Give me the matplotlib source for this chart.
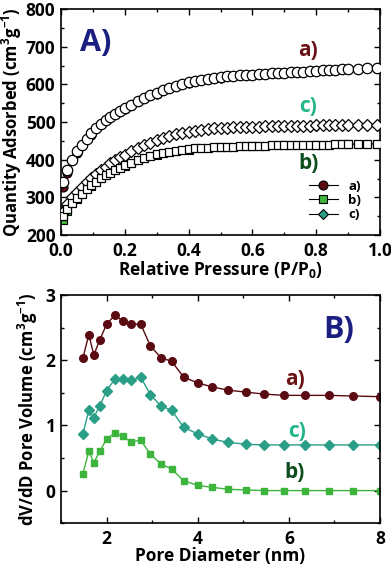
import matplotlib.pyplot as plt
from matplotlib.ticker import MultipleLocator

plt.rcParams['font.family'] = ['Open Sans', 'DejaVu Sans']
plt.rcParams['font.weight'] = 'bold'
plt.rcParams['mathtext.default'] = 'regular'

# colours
C_A = '#5a0b12'
C_B = '#3db53d'
C_C = '#2a9e86'
LAB_A = '#6b1216'
LAB_B = '#0d4d1e'
LAB_C = '#22b58a'
NAVY = '#1b1f80'

# ---- panel A : isotherms (open symbols) ----
p_iso = [0.007, 0.02, 0.035, 0.05, 0.065, 0.08, 0.095, 0.11, 0.125, 0.14, 0.155, 0.17, 0.185,
         0.2, 0.22, 0.24, 0.26, 0.28, 0.3, 0.32, 0.34, 0.36, 0.38, 0.4, 0.42, 0.44, 0.46, 0.48,
         0.5, 0.52, 0.54, 0.56, 0.58, 0.6, 0.62, 0.64, 0.66, 0.68, 0.7, 0.72, 0.74, 0.76, 0.78,
         0.8, 0.82, 0.84, 0.86, 0.88, 0.9, 0.93, 0.96, 0.99]
iso_a = [342, 372, 400, 422, 440, 455, 470, 484, 495, 505, 514, 522, 530,
         537, 546, 555, 563, 571, 578, 585, 591, 597, 602, 606, 609, 612, 615, 618,
         620, 622, 623, 624, 625, 626, 627, 628, 629, 630, 631, 632, 633, 634, 635,
         636, 637, 638, 639, 640, 641, 642, 643, 644]
iso_b = [250, 268, 285, 298, 310, 321, 332, 342, 351, 359, 366, 373, 379,
         385, 392, 399, 405, 410, 414, 418, 421, 424, 426, 428, 430, 431, 432, 433,
         434, 435, 435, 436, 436, 437, 437, 437, 438, 438, 438, 439, 439, 439, 439,
         440, 440, 440, 441, 441, 441, 442, 442, 443]
iso_c = [262, 282, 300, 315, 328, 340, 352, 362, 372, 381, 390, 398, 406,
         413, 422, 430, 438, 445, 451, 457, 462, 467, 471, 474, 477, 479, 481, 483,
         484, 485, 486, 487, 487, 488, 488, 489, 489, 489, 490, 490, 490, 490, 490,
         491, 491, 491, 491, 491, 492, 492, 492, 492]

# filled symbols (mostly hidden under the open ones)
p_ads = [0.007, 0.02, 0.05, 0.095, 0.2, 0.3, 0.4, 0.5, 0.6, 0.7, 0.8, 0.9, 0.99]
ads_a = [328, 366, 418, 466, 534, 575, 603, 618, 625, 630, 635, 640, 643]
ads_b = [240, 264, 295, 330, 383, 412, 427, 433, 436, 438, 440, 441, 442]
ads_c = [255, 278, 312, 350, 411, 449, 473, 483, 487, 489, 490, 491, 491]

# ---- panel B : pore size distribution ----
d_pore = [1.48, 1.61, 1.72, 1.85, 2.0, 2.18, 2.35, 2.53, 2.75, 2.96, 3.19, 3.43, 3.69,
          4.0, 4.32, 4.66, 5.05, 5.45, 5.89, 6.35, 6.87, 7.40, 7.99]
psd_a = [2.03, 2.39, 2.08, 2.31, 2.55, 2.69, 2.60, 2.55, 2.55, 2.22, 2.04, 1.98, 1.74,
         1.65, 1.59, 1.54, 1.51, 1.48, 1.46, 1.46, 1.46, 1.45, 1.44]
psd_b = [0.26, 0.60, 0.43, 0.60, 0.79, 0.88, 0.83, 0.75, 0.77, 0.56, 0.41, 0.33, 0.15,
         0.08, 0.05, 0.02, 0.01, 0.0, 0.0, 0.0, 0.0, 0.0, 0.0]
psd_c = [0.87, 1.23, 1.12, 1.30, 1.53, 1.71, 1.71, 1.69, 1.74, 1.47, 1.30, 1.23, 0.97,
         0.87, 0.79, 0.74, 0.71, 0.70, 0.70, 0.70, 0.70, 0.70, 0.70]

fig = plt.figure(figsize=(3.91, 5.65), dpi=100)
ax1 = fig.add_axes([0.156, 0.584, 0.816, 0.400])
ax2 = fig.add_axes([0.156, 0.074, 0.816, 0.404])

def style(ax):
	ax.tick_params(which='both', direction='in', top=True, right=True, labelsize=12.5)
	ax.tick_params(which='major', length=4, width=1)
	ax.tick_params(which='minor', length=2.5, width=1)
	ax.tick_params(axis='x', pad=5)
	ax.tick_params(axis='y', pad=4)
	for s in ax.spines.values():
		s.set_linewidth(1.2)
	for t in ax.get_xticklabels() + ax.get_yticklabels():
		t.set_fontweight('bold')

# panel A
h_a, = ax1.plot(p_ads, ads_a, '-o', color='k', lw=0.8, mfc=C_A, mec='k', ms=6.5, mew=0.8, zorder=2)
h_b, = ax1.plot(p_ads, ads_b, '-s', color='k', lw=0.8, mfc=C_B, mec='k', ms=5.5, mew=0.8, zorder=2)
h_c, = ax1.plot(p_ads, ads_c, '-D', color='k', lw=0.8, mfc=C_C, mec='k', ms=5, mew=0.8, zorder=2)
ax1.plot(p_iso, iso_a, 'o', mfc='white', mec='k', ms=7.5, mew=0.9, zorder=3)
ax1.plot(p_iso, iso_c, 'D', mfc='white', mec='k', ms=6, mew=0.9, zorder=3)
ax1.plot(p_iso, iso_b, 's', mfc='white', mec='k', ms=6, mew=0.9, zorder=3)
ax1.set_xlim(0, 1)
ax1.set_ylim(200, 800)
ax1.xaxis.set_major_locator(MultipleLocator(0.2))
ax1.xaxis.set_minor_locator(MultipleLocator(0.1))
ax1.yaxis.set_major_locator(MultipleLocator(100))
ax1.yaxis.set_minor_locator(MultipleLocator(50))
ax1.xaxis.set_major_formatter(lambda v, pos: f'{v:.1f}')
ax1.set_xlabel('Relative Pressure (P/P$_0$)', fontsize=12.5, fontweight='bold', labelpad=-1)
ax1.set_ylabel('Quantity Adsorbed (cm$^3$g$^{-1}$)', fontsize=12, fontweight='bold', labelpad=1)
ax1.text(0.11, 709, 'A)', color=NAVY, fontsize=22, fontweight='bold', ha='center', va='center')
ax1.text(0.775, 691, 'a)', color=LAB_A, fontsize=15, fontweight='bold', ha='center', va='center')
ax1.text(0.775, 541, 'c)', color=LAB_C, fontsize=15, fontweight='bold', ha='center', va='center')
ax1.text(0.775, 390, 'b)', color=LAB_B, fontsize=15, fontweight='bold', ha='center', va='center')
leg = ax1.legend([h_a, h_b, h_c], ['a)', 'b)', 'c)'], loc='lower right', frameon=False,
                 fontsize=9.5, handlelength=2.2, labelspacing=0.1, borderaxespad=0.3,
                 bbox_to_anchor=(0.97, 0.02))
for t in leg.get_texts():
	t.set_fontweight('bold')
style(ax1)

# panel B
ax2.plot(d_pore, psd_a, '-o', color=C_A, lw=1, mfc=C_A, mec=C_A, ms=5.5)
ax2.plot(d_pore, psd_c, '-D', color=C_C, lw=1, mfc=C_C, mec=C_C, ms=5)
ax2.plot(d_pore, psd_b, '-s', color=C_B, lw=1, mfc=C_B, mec=C_B, ms=5)
ax2.set_xlim(1, 8)
ax2.set_ylim(-0.5, 3)
ax2.xaxis.set_major_locator(MultipleLocator(2))
ax2.xaxis.set_minor_locator(MultipleLocator(1))
ax2.yaxis.set_major_locator(MultipleLocator(1))
ax2.yaxis.set_minor_locator(MultipleLocator(0.5))
ax2.set_xlabel('Pore Diameter (nm)', fontsize=12.5, fontweight='bold', labelpad=-1)
ax2.set_ylabel('dV/dD Pore Volume (cm$^3$g$^{-1}$)', fontsize=12, fontweight='bold', labelpad=4)
ax2.text(7.09, 2.46, 'B)', color=NAVY, fontsize=22, fontweight='bold', ha='center', va='center')
ax2.text(6.13, 1.70, 'a)', color=LAB_A, fontsize=15, fontweight='bold', ha='center', va='center')
ax2.text(6.17, 0.90, 'c)', color=LAB_C, fontsize=15, fontweight='bold', ha='center', va='center')
ax2.text(6.13, 0.27, 'b)', color=LAB_B, fontsize=15, fontweight='bold', ha='center', va='center')
style(ax2)

fig.savefig('out.png', dpi=100)
